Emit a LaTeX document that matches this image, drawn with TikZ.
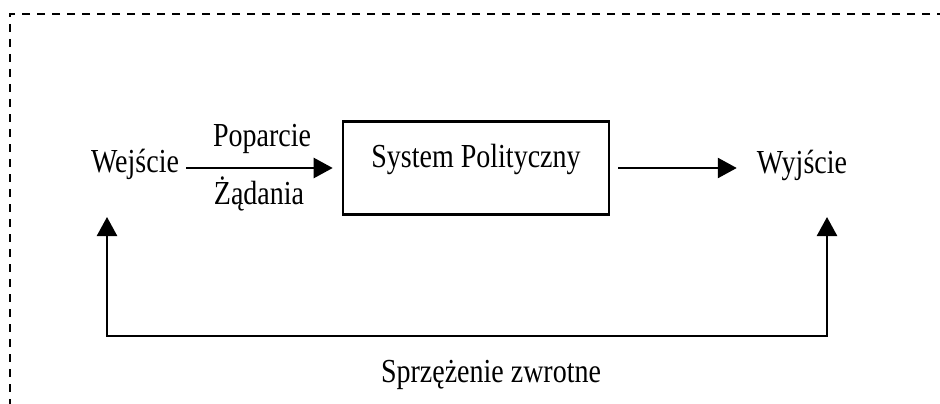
\documentclass[tikz,border=0pt]{standalone}
\usepackage{fontspec}
\setmainfont{Liberation Serif}
\usetikzlibrary{arrows.meta}
\newcommand{\tallt}[1]{\scalebox{1}[1.2]{#1}}
\tikzset{
  lbl/.style={font=\fontsize{28}{30}\selectfont, inner sep=0pt, anchor=base},
  tip/.tip={Triangle[length=19pt,width=20pt]},
  arr/.style={line width=2.5pt, -tip},
  fb/.style={line width=2.5pt, line join=miter, tip-tip},
  frame/.style={line width=2pt, dash pattern=on 8pt off 7pt},
  sysbox/.style={draw, line width=2.6pt, minimum width=266pt, minimum height=93pt, inner sep=0pt}
}
\begin{document}
\begin{tikzpicture}[x=1pt, y=-1pt]
  \useasboundingbox (0,0) rectangle (940,404);
  % dashed frame, running off the right and bottom edges
  \draw[frame] (960,14.5) -- (9.5,14.5) -- (9.5,420);

  % system block
  \node[sysbox] (sys) at (476,168) {};
  \node[lbl] (systxt) at (476,167) {\tallt{System Polityczny}};

  % input and output
  \node[lbl] (win) at (135,172) {\tallt{Wejście}};
  \node[lbl] (wout) at (802,173) {\tallt{Wyjście}};
  \node[lbl] (pop) at (262,146) {\tallt{Poparcie}};
  \node[lbl] (zad) at (259,204) {\tallt{Żądania}};

  \draw[arr, shorten <=7pt, shorten >=9pt] (win.east |- sys.west) -- (sys.west);
  \draw[arr, shorten <=8pt, shorten >=20pt] (sys.east) -- (wout.west |- sys.east);

  % feedback loop
  \coordinate (tipL) at (107,217);
  \coordinate (cnrL) at (107,336);
  \coordinate (cnrR) at (827,336);
  \coordinate (tipR) at (827,217);
  \draw[fb] (tipL) -- (cnrL) -- (cnrR) -- (tipR);
  \node[lbl] (fbtxt) at (491,382) {\tallt{Sprzężenie zwrotne}};
\end{tikzpicture}
\end{document}
